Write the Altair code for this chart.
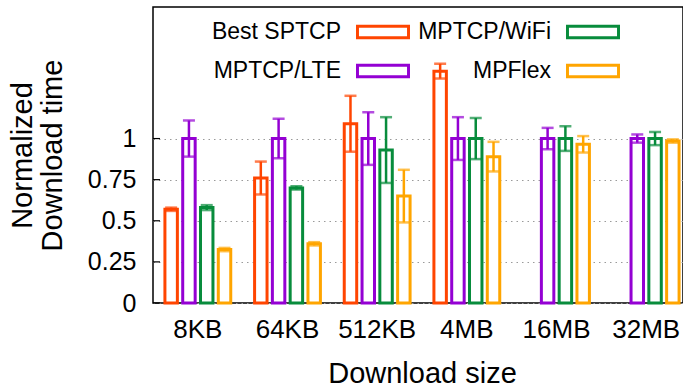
import altair as alt
import pandas as pd

# ---- data ----
sizes = ["8KB", "64KB", "512KB", "4MB", "16MB", "32MB"]
series = ["Best SPTCP", "MPTCP/LTE", "MPTCP/WiFi", "MPFlex"]
colors = ["#ff4500", "#9400d3", "#088c3c", "#ffa500"]

sptcp = [0.57, 0.76, 1.09, 1.41, None, None]
sptcp_err = [0.01, 0.10, 0.17, 0.045, None, None]
lte = [1.0, 1.0, 1.0, 1.0, 1.0, 1.0]
lte_err = [0.11, 0.12, 0.16, 0.13, 0.065, 0.025]
wifi = [0.58, 0.70, 0.93, 1.0, 1.0, 1.0]
wifi_err = [0.015, 0.01, 0.20, 0.125, 0.075, 0.04]
mpflex = [0.325, 0.36, 0.65, 0.89, 0.965, 0.985]
mpflex_err = [0.01, 0.01, 0.16, 0.09, 0.05, 0.01]

y_ticks = [0, 0.25, 0.5, 0.75, 1]

# ---- table ----
rows = []
for name, vals, errs in [("Best SPTCP", sptcp, sptcp_err), ("MPTCP/LTE", lte, lte_err),
                         ("MPTCP/WiFi", wifi, wifi_err), ("MPFlex", mpflex, mpflex_err)]:
    for s, v, e in zip(sizes, vals, errs):
        if v is None:
            continue
        rows.append({"size": s, "series": name, "value": v, "lo": v - e, "hi": v + e})
df = pd.DataFrame(rows)
tick_df = pd.DataFrame({"v": y_ticks})

FONT = "Liberation Sans"
FRAME = "M-1,-0.27H1V0.27H-1Z M-0.89,-0.16V0.16H0.89V-0.16Z"

x_scale = alt.Scale(domain=sizes, range=[0, 538], paddingInner=0, paddingOuter=0)
xoff_scale = alt.Scale(domain=series, paddingInner=0.3, paddingOuter=0.67)
y_scale = alt.Scale(domain=[0, 1.8], nice=False, zero=True)
col_scale = alt.Scale(domain=series, range=colors)

x_enc = alt.X("size:N", sort=sizes, scale=x_scale,
              axis=alt.Axis(title="Download size", labelAngle=0, labelFontSize=26,
                            titleFontSize=29, ticks=False, domain=False, labelPadding=13,
                            titlePadding=17, labelColor="black", titleColor="black",
                            titleFontWeight="normal", labelFont=FONT, titleFont=FONT))
xo_enc = alt.XOffset("series:N", scale=xoff_scale)

bars = alt.Chart(df).mark_bar(fill="white", strokeWidth=3).encode(
    x=x_enc,
    xOffset=xo_enc,
    y=alt.Y("value:Q", scale=y_scale,
            axis=alt.Axis(values=y_ticks, title=["Normalized", "Download time"],
                          labelExpr="'' + datum.value",
                          labelFontSize=25, labelFont=FONT, labelColor="black",
                          ticks=False, domain=False, labelPadding=17,
                          grid=True, gridDash=[1.5, 4], gridColor="#9a9a9a", gridWidth=1,
                          titleFontSize=29, titleFont=FONT, titleFontWeight="normal",
                          titleColor="black", titleAngle=270, titleX=-116, titleY=148,
                          titleAlign="center", titleBaseline="bottom", titleLineHeight=30)),
    stroke=alt.Stroke("series:N", scale=col_scale,
                      legend=alt.Legend(orient="none", legendX=203, legendY=-2, columns=2,
                                        title=None, labelFontSize=23, labelFont=FONT,
                                        labelColor="black", labelLimit=0,
                                        symbolType=FRAME, symbolSize=2916,
                                        symbolStrokeWidth=0,
                                        labelAlign="right", labelOffset={"expr": "-69"},
                                        columnPadding=8, rowPadding={"expr": "-12"})),
)

errs = alt.Chart(df).mark_rule(strokeWidth=2.5).encode(
    x=alt.X("size:N", sort=sizes, scale=x_scale),
    xOffset=xo_enc,
    y=alt.Y("lo:Q", scale=y_scale),
    y2="hi:Q",
    stroke=alt.Stroke("series:N", scale=col_scale, legend=None),
)

caps_hi = alt.Chart(df).mark_tick(size=12, thickness=2.5).encode(
    x=alt.X("size:N", sort=sizes, scale=x_scale),
    xOffset=xo_enc,
    y=alt.Y("hi:Q", scale=y_scale),
    color=alt.Color("series:N", scale=col_scale, legend=None),
)
caps_lo = alt.Chart(df).mark_tick(size=12, thickness=2.5).encode(
    x=alt.X("size:N", sort=sizes, scale=x_scale),
    xOffset=xo_enc,
    y=alt.Y("lo:Q", scale=y_scale),
    color=alt.Color("series:N", scale=col_scale, legend=None),
)

inner_ticks = alt.Chart(tick_df).mark_rule(color="black", strokeWidth=1.2).encode(
    y=alt.Y("v:Q", scale=y_scale),
    x=alt.value(0),
    x2=alt.value(7),
)

chart = alt.layer(bars, errs, caps_hi, caps_lo, inner_ticks).properties(
    width=530, height=296,
    padding={"left": 153, "top": 7, "right": 0, "bottom": 86},
    autosize=alt.AutoSizeParams(type="none"),
    background="white",
).configure_view(stroke="black", strokeWidth=1.5)

chart.save("out.html", embed_options={"renderer": "svg", "actions": False})
